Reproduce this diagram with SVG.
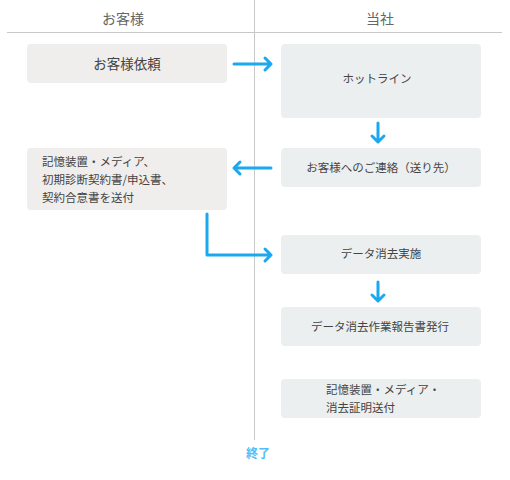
<svg xmlns="http://www.w3.org/2000/svg" width="510" height="480" viewBox="0 0 510 480">
<style>
text{font-family:"Noto Sans CJK JP","Noto Sans",sans-serif;fill:#444}
.hd{font-size:14px;fill:#666;text-anchor:middle}
.c{font-size:11.5px;text-anchor:middle}
.l{font-size:11.5px}
.bl{fill:#f0eeed}
.br{fill:#eceff0}
.ar{fill:none;stroke:#1aa9ef;stroke-width:3;stroke-linecap:round;stroke-linejoin:round}
.ln{stroke:#c8c8c8;stroke-width:1}
</style>
<g id="grid">
<line class="ln" x1="254.5" y1="0" x2="254.5" y2="440"/>
<line class="ln" x1="7" y1="32.5" x2="502" y2="32.5"/>
<text class="hd" x="123" y="24">お客様</text>
<text class="hd" x="380" y="24">当社</text>
</g>
<g id="n1"><rect class="bl" x="27" y="44" width="200" height="39" rx="4"/><text class="c" x="127" y="69" style="font-size:13.5px">お客様依頼</text></g>
<g id="n2"><rect class="br" x="281" y="44" width="200" height="74" rx="4"/><text class="c" x="377" y="83">ホットライン</text></g>
<g id="n3"><rect class="br" x="281" y="148" width="200" height="39" rx="4"/><text class="c" x="381" y="172">お客様へのご連絡（送り先）</text></g>
<g id="n4"><rect class="bl" x="27" y="148" width="200" height="62" rx="4"/>
<text class="l" x="42" y="166">記憶装置・メディア、</text>
<text class="l" x="42" y="184">初期診断契約書/申込書、</text>
<text class="l" x="42" y="202">契約合意書を送付</text></g>
<g id="n5"><rect class="br" x="281" y="235" width="200" height="39" rx="4"/><text class="c" x="381" y="258">データ消去実施</text></g>
<g id="n6"><rect class="br" x="281" y="307" width="200" height="39" rx="4"/><text class="c" x="380" y="331">データ消去作業報告書発行</text></g>
<g id="n7"><rect class="br" x="281" y="379" width="200" height="39" rx="4"/>
<text class="l" x="326" y="394">記憶装置・メディア・</text>
<text class="l" x="326" y="412">消去証明送付</text></g>
<g id="end"><text x="258" y="458" style="font-size:12px;fill:#4fbff5;font-weight:bold;text-anchor:middle">終了</text></g>
<g id="connectors">
<path class="ar" d="M234 64H271M265 58L271 64L265 70"/>
<path class="ar" d="M378 123V142M372 136L378 142L384 136"/>
<path class="ar" d="M271 168H234M240 162L234 168L240 174"/>
<path class="ar" d="M207 214V255H271M265 249L271 255L265 261"/>
<path class="ar" d="M378 282V301M372 295L378 301L384 295"/>
</g>
</svg>
